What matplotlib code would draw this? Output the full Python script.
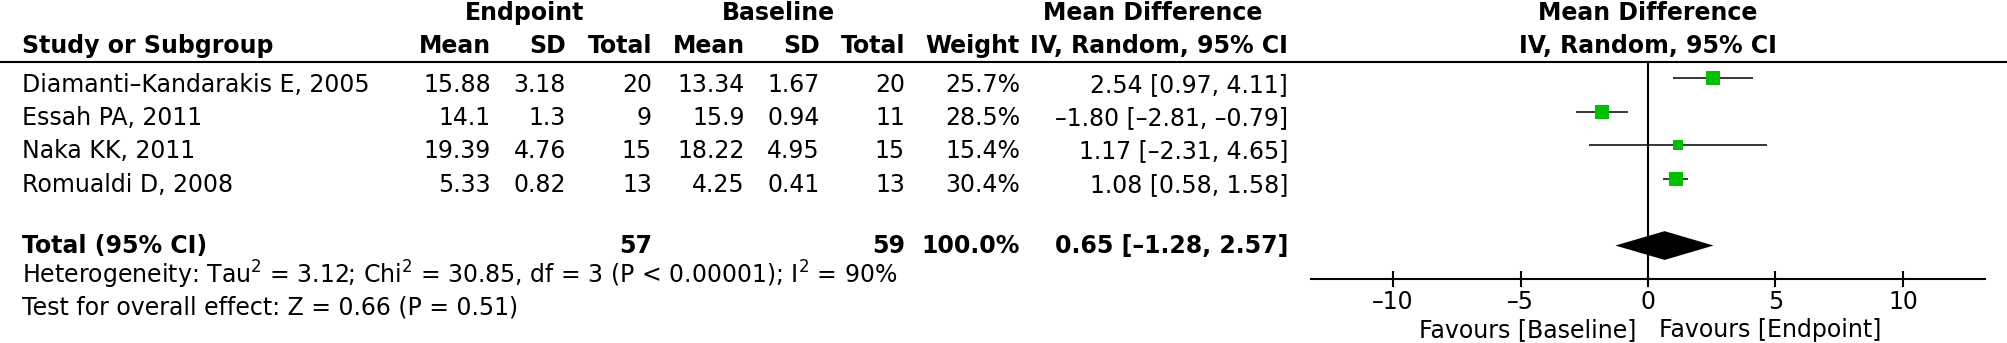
# Forest plot: endpoint vs baseline, mean difference (IV, random)
import matplotlib
matplotlib.use('Agg')
import matplotlib.pyplot as plt
import numpy as np

# study data
studies = ['Diamanti–Kandarakis E, 2005', 'Essah PA, 2011', 'Naka KK, 2011', 'Romualdi D, 2008']
end_mean = [15.88, 14.1, 19.39, 5.33]
end_sd = [3.18, 1.3, 4.76, 0.82]
end_n = [20, 9, 15, 13]
base_mean = [13.34, 15.9, 18.22, 4.25]
base_sd = [1.67, 0.94, 4.95, 0.41]
base_n = [20, 11, 15, 13]
weight = [25.7, 28.5, 15.4, 30.4]
md = [2.54, -1.80, 1.17, 1.08]
ci_lo = [0.97, -2.81, -2.31, 0.58]
ci_hi = [4.11, -0.79, 4.65, 1.58]

# pooled result
total_end_n = 57
total_base_n = 59
total_weight = 100.0
total_md = 0.65
total_lo = -1.28
total_hi = 2.57
het_text = r'Heterogeneity: Tau$^{2}$ = 3.12; Chi$^{2}$ = 30.85, df = 3 (P < 0.00001); I$^{2}$ = 90%'
test_text = 'Test for overall effect: Z = 0.66 (P = 0.51)'

xticks = [-10, -5, 0, 5, 10]
label_left = 'Favours [Baseline]'
label_right = 'Favours [Endpoint]'


def dash(s):
    return s.replace('-', '–')


def fmt_ci(m, lo, hi):
    return dash('%.2f [%.2f, %.2f]' % (m, lo, hi))


W, H = 2008, 343
FS = 17
green = '#00c000'
plt.rcParams['mathtext.fontset'] = 'dejavusans'
plt.rcParams['mathtext.default'] = 'regular'

fig = plt.figure(figsize=(W / 100, H / 100), dpi=100)

# text table in pixel coords
tab = fig.add_axes([0, 0, 1, 1])
tab.set_xlim(0, W)
tab.set_ylim(H, 0)
tab.axis('off')

# column right edges
c_study = 22
c_em, c_esd, c_en = 491, 566, 652
c_bm, c_bsd, c_bn = 745, 820, 905
c_w, c_ci = 1020, 1288
c_plot = 1648

# headers
tab.text(525, 20, 'Endpoint', ha='center', va='baseline', fontsize=FS, fontweight='bold')
tab.text(778, 20, 'Baseline', ha='center', va='baseline', fontsize=FS, fontweight='bold')
tab.text(1153, 20, 'Mean Difference', ha='center', va='baseline', fontsize=FS, fontweight='bold')
tab.text(c_plot, 20, 'Mean Difference', ha='center', va='baseline', fontsize=FS, fontweight='bold')
y_h2 = 53.3
tab.text(c_study, y_h2, 'Study or Subgroup', ha='left', va='baseline', fontsize=FS, fontweight='bold')
for x, s in [(c_em, 'Mean'), (c_esd, 'SD'), (c_en, 'Total'), (c_bm, 'Mean'), (c_bsd, 'SD'),
             (c_bn, 'Total'), (c_w, 'Weight'), (c_ci, 'IV, Random, 95% CI')]:
    tab.text(x, y_h2, s, ha='right', va='baseline', fontsize=FS, fontweight='bold')
tab.text(c_plot, y_h2, 'IV, Random, 95% CI', ha='center', va='baseline', fontsize=FS, fontweight='bold')

# header rule
tab.plot([0, W], [61.5, 61.5], color='black', lw=1.5)

# study rows
row_y = [91.7, 125.0, 158.3, 191.7]
for i in range(len(studies)):
    y = row_y[i]
    tab.text(c_study, y, studies[i], ha='left', va='baseline', fontsize=FS)
    vals = [(c_em, '%g' % end_mean[i]), (c_esd, '%g' % end_sd[i]), (c_en, str(end_n[i])),
            (c_bm, '%g' % base_mean[i]), (c_bsd, '%g' % base_sd[i]), (c_bn, str(base_n[i])),
            (c_w, '%.1f%%' % weight[i]), (c_ci, fmt_ci(md[i], ci_lo[i], ci_hi[i]))]
    for x, s in vals:
        tab.text(x, y, s, ha='right', va='baseline', fontsize=FS)

# total row
y_t = 253.3
tab.text(c_study, y_t, 'Total (95% CI)', ha='left', va='baseline', fontsize=FS, fontweight='bold')
for x, s in [(c_en, str(total_end_n)), (c_bn, str(total_base_n)), (c_w, '%.1f%%' % total_weight),
             (c_ci, fmt_ci(total_md, total_lo, total_hi))]:
    tab.text(x, y_t, s, ha='right', va='baseline', fontsize=FS, fontweight='bold')
tab.text(c_study, 283.3, het_text, ha='left', va='baseline', fontsize=FS)
tab.text(c_study, 315.0, test_text, ha='left', va='baseline', fontsize=FS)

# forest plot axes
ax_l, ax_r, ax_top, ax_bot = 1311, 1985, 61.5, 279
ax = fig.add_axes([ax_l / W, 1 - ax_bot / H, (ax_r - ax_l) / W, (ax_bot - ax_top) / H])
ax.patch.set_alpha(0)
ax.set_xlim(-13.22, 13.22)
ax.set_ylim(7, 0.5)
for s in ['top', 'left', 'right']:
    ax.spines[s].set_visible(False)
ax.spines['bottom'].set_linewidth(1.5)
ax.set_yticks([])
ax.set_xticks(xticks)
ax.set_xticklabels([dash(str(t)) for t in xticks])
ax.tick_params(axis='x', direction='inout', length=11.5, width=1.5, pad=2, labelsize=FS)

rows = np.arange(1, len(studies) + 1)
ax.hlines(rows, ci_lo, ci_hi, color='black', lw=1.1)
for i in range(len(studies)):
    side = 2.63 * np.sqrt(weight[i]) * 0.72
    ax.plot(md[i], rows[i], 's', ms=side, color=green, mew=0, zorder=3)

# pooled diamond
y_d = len(studies) + 2
h = 0.43
ax.fill([total_lo, total_md, total_hi, total_md], [y_d, y_d - h, y_d, y_d + h], color='black', lw=0)

# line of no effect
ax.plot([0, 0], [0.5, 7.22], color='black', lw=1.5, clip_on=False)

tab.text(c_plot - 12, 336.7, label_left, ha='right', va='baseline', fontsize=FS)
tab.text(c_plot + 11, 336.7, label_right, ha='left', va='baseline', fontsize=FS)

fig.savefig('out.png', dpi=100)
